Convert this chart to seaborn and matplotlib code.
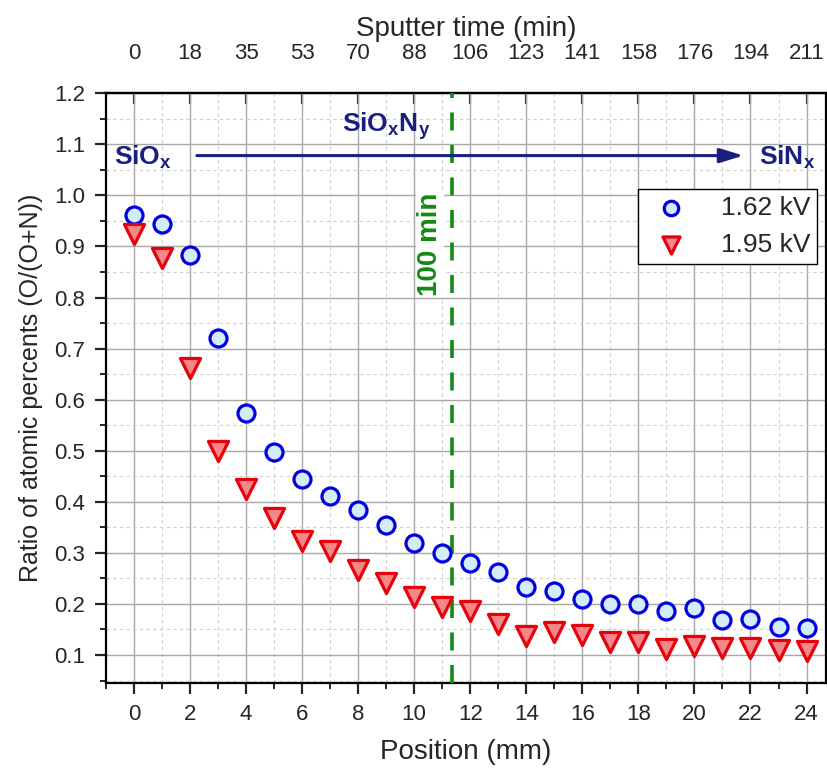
import matplotlib
matplotlib.use("Agg")
import matplotlib.pyplot as plt
from matplotlib.ticker import MultipleLocator, FormatStrFormatter
import seaborn as sns
import pandas as pd

# data
position = list(range(25))
ratio_162 = [0.962, 0.944, 0.884, 0.720, 0.573, 0.497, 0.444, 0.412, 0.384, 0.354,
             0.320, 0.300, 0.280, 0.262, 0.233, 0.225, 0.210, 0.200, 0.199, 0.187,
             0.192, 0.169, 0.171, 0.155, 0.153]
ratio_195 = [0.925, 0.877, 0.663, 0.499, 0.425, 0.369, 0.324, 0.304, 0.266, 0.242,
             0.214, 0.195, 0.187, 0.161, 0.138, 0.145, 0.139, 0.125, 0.125, 0.112,
             0.117, 0.113, 0.113, 0.109, 0.107]
top_ticks = [0, 2, 4, 6, 8, 10, 12, 14, 16, 18, 20, 22, 24]
top_labels = ['0', '18', '35', '53', '70', '88', '106', '123', '141', '158', '176', '194', '211']
min_per_mm = 211.2 / 24
marker_time = 100

df = pd.DataFrame({'pos': position, 'r162': ratio_162, 'r195': ratio_195})

sns.set_style("ticks")
plt.rcParams['font.family'] = ['Liberation Sans', 'DejaVu Sans']
plt.rcParams['mathtext.fontset'] = 'custom'
plt.rcParams['mathtext.rm'] = 'Liberation Sans'
plt.rcParams['mathtext.bf'] = 'Liberation Sans:bold'

fig = plt.figure(figsize=(8.27, 7.71), dpi=100)
ax = fig.add_axes([0.128, 0.114, 0.871, 0.765])

sns.scatterplot(x='pos', y='r162', data=df, ax=ax, marker='o', s=150,
                facecolor='#d4ebf8', edgecolor='#0000e0', linewidth=2.3,
                label='1.62 kV', zorder=4)
sns.scatterplot(x='pos', y='r195', data=df, ax=ax, marker='v', s=210,
                facecolor='#f4878a', edgecolor='#e8000b', linewidth=2.3,
                label='1.95 kV', zorder=4)

ax.set_xlim(-1, 24.7)
ax.set_ylim(0.045, 1.2)
ax.xaxis.set_major_locator(MultipleLocator(2))
ax.xaxis.set_minor_locator(MultipleLocator(1))
ax.yaxis.set_major_locator(MultipleLocator(0.1))
ax.yaxis.set_minor_locator(MultipleLocator(0.05))
ax.yaxis.set_major_formatter(FormatStrFormatter('%.1f'))

ax.grid(which='major', color='#a8a8a8', linewidth=1.0, zorder=0)
ax.grid(which='minor', color='#d0d0d0', linewidth=0.8, linestyle=(0, (3, 3)), zorder=0)
ax.set_axisbelow(True)

for sp in ax.spines.values():
    sp.set_linewidth(1.6)
    sp.set_color('black')

ax.tick_params(axis='both', which='major', direction='out', length=8, width=1.6,
               labelsize=16, pad=7)
ax.tick_params(axis='both', which='minor', direction='out', length=4.5, width=1.4)
ax.tick_params(axis='y', right=True, which='both')
ax.tick_params(axis='x', top=False, which='both')

ax.set_xlabel('Position (mm)', fontsize=20, labelpad=10)
ax.set_ylabel('Ratio of atomic percents (O/(O+N))', fontsize=18, labelpad=8)

# top axis: sputter time
top = ax.secondary_xaxis('top')
top.set_xticks(top_ticks, top_labels)
top.tick_params(direction='in', length=8, width=1.6, labelsize=16, pad=21)
top.spines['top'].set_linewidth(1.6)
top.set_xlabel('Sputter time (min)', fontsize=20, labelpad=5)

# 100 min marker
x100 = marker_time / min_per_mm
ax.axvline(x100, color='#138a13', linestyle=(0, (5, 4)), linewidth=2.6, zorder=3)
ax.text(x100 - 0.8, 0.905, '100 min', rotation=90, color='#138a13', fontsize=20,
        fontweight='bold', ha='center', va='center', zorder=5,
        bbox=dict(facecolor='white', edgecolor='none', pad=1))

# composition arrow
navy = '#1a1f80'
ax.annotate('', xy=(21.85, 1.078), xytext=(2.15, 1.078),
            arrowprops=dict(arrowstyle='-|>,head_length=0.72,head_width=0.22',
                            mutation_scale=20, color=navy, linewidth=2.2), zorder=5)
ax.text(-0.7, 1.075, r'SiO$_\mathbf{x}$', color=navy, fontsize=19,
        fontweight='bold', ha='left', va='center')
ax.text(9.0, 1.135, r'SiO$_\mathbf{x}$N$_\mathbf{y}$', color=navy, fontsize=19,
        fontweight='bold', ha='center', va='center')
ax.text(22.3, 1.075, r'SiN$_\mathbf{x}$', color=navy, fontsize=19,
        fontweight='bold', ha='left', va='center')

leg = ax.legend(loc='upper right', bbox_to_anchor=(0.9875, 0.837), fontsize=19,
                frameon=True, fancybox=False, edgecolor='black', framealpha=1,
                borderpad=0.25, handletextpad=0.9, borderaxespad=0, markerscale=0.85)
leg.get_frame().set_linewidth(1.0)

plt.savefig('out.png', dpi=100)
